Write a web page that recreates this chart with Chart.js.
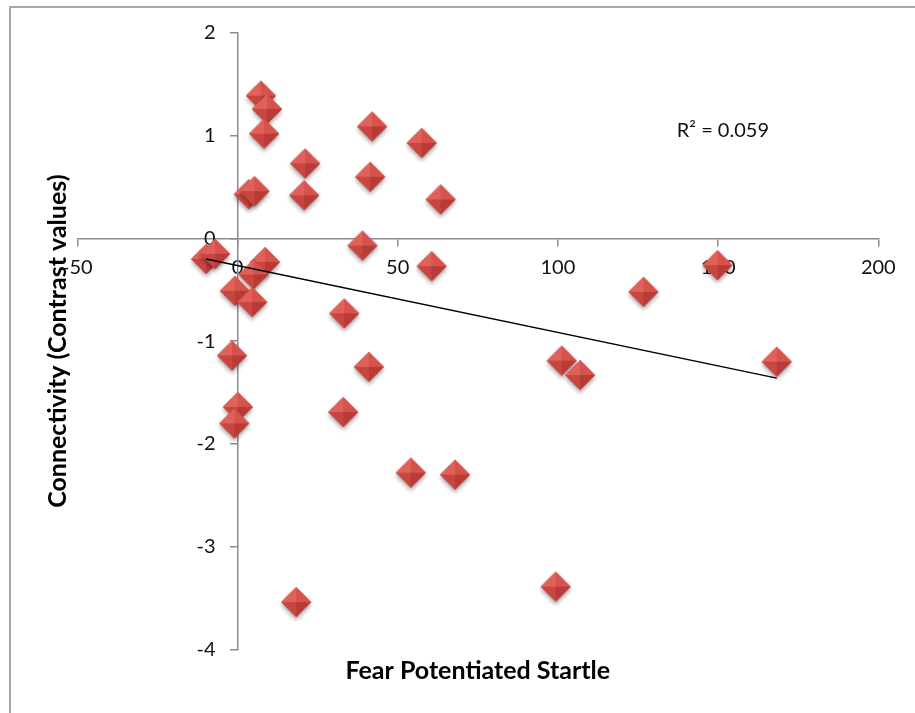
<!DOCTYPE html>
<html>
<head>
<meta charset="utf-8">
<script src="https://cdn.jsdelivr.net/npm/chart.js@4.4.1/dist/chart.umd.min.js"></script>
<style>
  html, body { margin: 0; padding: 0; background: #fff; }
  #wrap { position: relative; width: 915px; height: 713px; overflow: hidden; }
  #frame { position: absolute; left: 9px; top: 6px; width: 1000px; height: 1000px;
           border-left: 2px solid #a6a6a6; border-top: 2px solid #a6a6a6; }
  #chart { position: absolute; left: 0; top: 0; }
</style>
</head>
<body>
<div id="wrap">
  <div id="frame"></div>
  <canvas id="chart" width="915" height="713"></canvas>
</div>
<script>
// Fear potentiated startle (x) vs connectivity contrast (y)
var fpsValues = [7.3, 9.2, 8.3, 3.5, 5.3, 21.1, 20.8, 42, 41.4, 57.5, 63.4, 39, 60.6,
    -9.8, -7, 8.6, 5, -0.8, 4.6, 33.3, -1.7, 41, 0.1, -1, 33, 54.1, 67.9, 18.3,
    99.3, 101.2, 106.9, 168.3, 126.7, 149.8];
var connValues = [1.39, 1.26, 1.02, 0.43, 0.46, 0.73, 0.42, 1.09, 0.60, 0.93, 0.38, -0.07, -0.27,
    -0.2, -0.15, -0.23, -0.35, -0.51, -0.62, -0.73, -1.14, -1.25, -1.64, -1.80, -1.69, -2.28, -2.30, -3.54,
    -3.39, -1.19, -1.33, -1.20, -0.52, -0.26];
var xTicks = [-50, 0, 50, 100, 150, 200];
var yTicks = [-4, -3, -2, -1, 0, 1, 2];
var r2Label = "R² = 0.059";
var r2Pos = [151.5, 1.05];

var points = fpsValues.map(function (x, i) { return { x: x, y: connValues[i] }; });

// least squares trend line over the data range
var n = points.length, mx = 0, my = 0;
points.forEach(function (p) { mx += p.x; my += p.y; });
mx /= n; my /= n;
var sxy = 0, sxx = 0;
points.forEach(function (p) { sxy += (p.x - mx) * (p.y - my); sxx += (p.x - mx) * (p.x - mx); });
var slope = sxy / sxx, icpt = my - slope * mx;
var xmin = Math.min.apply(null, fpsValues), xmax = Math.max.apply(null, fpsValues);
var trend = [{ x: xmin, y: icpt + slope * xmin }, { x: xmax, y: icpt + slope * xmax }];

// shaded diamond marker, like the excel pyramid style
function makeDiamond(r) {
    var c = document.createElement('canvas');
    var s = Math.ceil(r * 2 + 14);
    c.width = s; c.height = s;
    var g = c.getContext('2d');
    var cx = s / 2, cy = s / 2;
    g.save();
    g.shadowColor = 'rgba(0,0,0,0.35)';
    g.shadowBlur = 4;
    g.shadowOffsetY = 3;
    g.beginPath();
    g.moveTo(cx, cy - r); g.lineTo(cx + r, cy); g.lineTo(cx, cy + r); g.lineTo(cx - r, cy);
    g.closePath();
    g.fillStyle = '#c9463f';
    g.fill();
    g.restore();
    var facets = [
        [[cx, cy - r], [cx - r, cy], '#e0605a'],
        [[cx, cy - r], [cx + r, cy], '#d6524c'],
        [[cx - r, cy], [cx, cy + r], '#c94540'],
        [[cx + r, cy], [cx, cy + r], '#b83b37']
    ];
    facets.forEach(function (f) {
        g.beginPath();
        g.moveTo(cx, cy); g.lineTo(f[0][0], f[0][1]); g.lineTo(f[1][0], f[1][1]);
        g.closePath();
        g.fillStyle = f[2];
        g.fill();
    });
    return c;
}
var diamond = makeDiamond(15);

// the y axis sits at x = 0, chart.js puts its labels flush on the line; push them left
var yLabelGap = 22;
var shiftYLabels = {
    id: 'shiftYLabels',
    beforeDraw: function (chart) {
        var s = chart.scales.y;
        var items = s.getLabelItems(chart.chartArea);
        if (!items._shifted) {
            items.forEach(function (it) { it.options.translation[0] -= yLabelGap; });
            items._shifted = true;
        }
    }
};

var r2Plugin = {
    id: 'r2text',
    afterDatasetsDraw: function (chart) {
        var ctx = chart.ctx;
        ctx.save();
        ctx.font = '20px Lato';
        ctx.fillStyle = '#111';
        ctx.textAlign = 'center';
        ctx.textBaseline = 'middle';
        ctx.fillText(r2Label, chart.scales.x.getPixelForValue(r2Pos[0]), chart.scales.y.getPixelForValue(r2Pos[1]));
        ctx.restore();
    }
};

var axisColor = '#8c8c8c';
new Chart(document.getElementById('chart'), {
    type: 'scatter',
    data: {
        datasets: [
            {
                type: 'line',
                label: 'trend',
                data: trend,
                borderColor: '#000',
                borderWidth: 1.5,
                pointRadius: 0,
                fill: false,
                order: 0
            },
            {
                label: 'subjects',
                data: points,
                pointStyle: diamond,
                pointRadius: 15,
                order: 1
            }
        ]
    },
    options: {
        responsive: false,
        animation: false,
        layout: { padding: { left: 34.5, right: 36.7, top: 33, bottom: 17 } },
        plugins: {
            legend: { display: false },
            tooltip: { enabled: false },
            title: {
                display: true,
                text: 'Fear Potentiated Startle',
                position: 'bottom',
                fullSize: false,
                color: '#000',
                font: { family: 'Lato', size: 25, weight: 'bold', lineHeight: 1.2 },
                padding: { top: 6.7, bottom: 10 }
            },
            subtitle: {
                display: true,
                text: 'Connectivity (Contrast values)',
                position: 'left',
                fullSize: false,
                color: '#000',
                font: { family: 'Lato', size: 25, weight: 'bold', lineHeight: 1.2 },
                padding: { top: 8, bottom: 4.8 }
            }
        },
        scales: {
            x: {
                type: 'linear',
                position: { y: 0 },
                min: xTicks[0],
                max: xTicks[xTicks.length - 1],
                afterBuildTicks: function (s) { s.ticks = xTicks.map(function (v) { return { value: v }; }); },
                grid: { drawOnChartArea: false, tickLength: 7, color: axisColor, lineWidth: 1.5 },
                border: { color: axisColor, width: 1.5 },
                ticks: { color: '#111', font: { family: 'Lato', size: 20 }, padding: 10, maxRotation: 0 }
            },
            y: {
                type: 'linear',
                position: { x: 0 },
                min: yTicks[0],
                max: yTicks[yTicks.length - 1],
                afterBuildTicks: function (s) { s.ticks = yTicks.map(function (v) { return { value: v }; }); },
                grid: { drawOnChartArea: false, tickLength: 7, color: axisColor, lineWidth: 1.5 },
                border: { color: axisColor, width: 1.5 },
                ticks: { color: '#111', font: { family: 'Lato', size: 20 }, padding: 14 }
            }
        }
    },
    plugins: [r2Plugin, shiftYLabels]
});
</script>
</body>
</html>
